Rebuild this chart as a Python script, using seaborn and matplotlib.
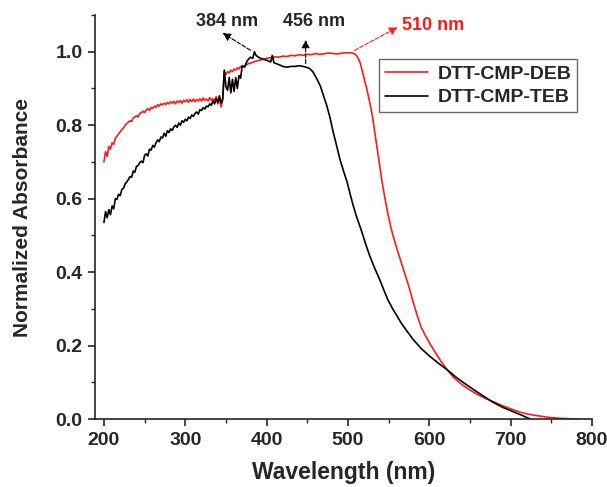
import matplotlib
matplotlib.use("Agg")
import matplotlib.pyplot as plt
import seaborn as sns
import pandas as pd
from matplotlib.ticker import MultipleLocator, FormatStrFormatter

# DTT-CMP-DEB (red)
deb_wl = [200, 202, 204, 206, 208, 210, 212, 214, 216, 218, 220, 222, 224, 226, 228,
          230, 232, 234, 236, 238, 240, 242, 244, 246, 248, 250, 252, 254, 256, 258,
          260, 262, 264, 266, 268, 270, 272, 274, 276, 278, 280, 282, 284, 286, 288,
          290, 292, 294, 296, 298, 300, 302, 304, 306, 308, 310, 312, 314, 316, 318,
          320, 322, 324, 326, 328, 330, 332, 334, 336, 338, 340, 342, 344, 346, 348,
          350, 352, 354, 356, 358, 360, 362, 364, 366, 368, 370, 374, 378, 382, 386,
          390, 395, 400, 405, 410, 415, 420, 425, 430, 435, 440, 445, 450, 455, 460,
          465, 470, 475, 480, 485, 490, 495, 500, 505, 509, 512, 515, 519, 523, 527,
          530, 533, 536, 539, 542, 546, 549, 553, 556, 560, 565, 570, 575, 580, 585,
          590, 595, 600, 605, 610, 615, 620, 630, 640, 650, 660, 670, 680, 690, 700,
          711, 720, 730, 745, 760, 775, 785]
deb_abs = [0.700, 0.728, 0.715, 0.742, 0.735, 0.752, 0.748, 0.765, 0.770, 0.776, 0.782, 0.788, 0.792, 0.800, 0.804,
           0.808, 0.812, 0.810, 0.820, 0.822, 0.826, 0.822, 0.832, 0.834, 0.838, 0.834, 0.842, 0.845, 0.840, 0.848,
           0.846, 0.852, 0.848, 0.856, 0.852, 0.858, 0.855, 0.860, 0.856, 0.862, 0.858, 0.864, 0.860, 0.865, 0.858,
           0.866, 0.862, 0.867, 0.860, 0.868, 0.864, 0.869, 0.862, 0.870, 0.865, 0.871, 0.864, 0.870, 0.866, 0.872,
           0.866, 0.874, 0.868, 0.871, 0.866, 0.875, 0.868, 0.872, 0.866, 0.878, 0.858, 0.872, 0.850, 0.868, 0.945,
           0.938, 0.946, 0.942, 0.950, 0.946, 0.953, 0.950, 0.956, 0.953, 0.960, 0.958, 0.963, 0.968, 0.970, 0.974,
           0.976, 0.979, 0.982, 0.984, 0.986, 0.985, 0.988, 0.987, 0.990, 0.989, 0.992, 0.990, 0.993, 0.992, 0.995,
           0.993, 0.994, 0.996, 0.996, 0.994, 0.995, 0.997, 0.997, 0.997, 0.993, 0.985, 0.970, 0.935, 0.900, 0.860,
           0.826, 0.780, 0.735, 0.690, 0.645, 0.595, 0.560, 0.520, 0.495, 0.465, 0.430, 0.395, 0.360, 0.320, 0.283,
           0.250, 0.228, 0.208, 0.190, 0.172, 0.155, 0.140, 0.113, 0.094, 0.079, 0.066, 0.055, 0.046, 0.036, 0.028,
           0.019, 0.014, 0.010, 0.005, 0.002, 0.0005, 0.0]

# DTT-CMP-TEB (black)
teb_wl = [200, 202, 204, 206, 208, 210, 212, 214, 216, 218, 220, 222, 224, 226, 228,
          230, 232, 234, 236, 238, 240, 242, 244, 246, 248, 250, 252, 254, 256, 258,
          260, 262, 264, 266, 268, 270, 272, 274, 276, 278, 280, 282, 284, 286, 288,
          290, 292, 294, 296, 298, 300, 302, 304, 306, 308, 310, 312, 314, 316, 318,
          320, 322, 324, 326, 328, 330, 332, 334, 336, 338, 340, 342, 344, 346, 348,
          350, 352, 354, 356, 358, 360, 362, 364, 366, 368, 370, 373, 376, 380, 383,
          385, 387, 390, 395, 400, 405, 407, 409, 415, 420, 425, 430, 435, 440, 445,
          450, 453, 457, 462, 466, 470, 474, 478, 482, 486, 490, 495, 499, 503, 506,
          510, 517, 522, 527, 533, 539, 544, 549, 555, 560, 565, 570, 575, 580, 590,
          600, 610, 622, 634, 646, 660, 678, 690, 703, 714, 724]
teb_abs = [0.535, 0.565, 0.548, 0.570, 0.556, 0.580, 0.572, 0.600, 0.598, 0.612, 0.608, 0.625, 0.628, 0.640, 0.645,
           0.652, 0.660, 0.658, 0.675, 0.672, 0.688, 0.690, 0.698, 0.702, 0.698, 0.718, 0.722, 0.716, 0.735, 0.732,
           0.745, 0.740, 0.752, 0.760, 0.755, 0.768, 0.765, 0.778, 0.770, 0.785, 0.780, 0.790, 0.786, 0.795, 0.800,
           0.794, 0.806, 0.800, 0.812, 0.808, 0.816, 0.812, 0.822, 0.818, 0.828, 0.824, 0.832, 0.836, 0.830, 0.842,
           0.840, 0.848, 0.844, 0.852, 0.850, 0.858, 0.854, 0.866, 0.858, 0.872, 0.862, 0.880, 0.860, 0.872, 0.950,
           0.905, 0.895, 0.930, 0.888, 0.925, 0.892, 0.930, 0.900, 0.935, 0.928, 0.962, 0.958, 0.975, 0.985, 0.982,
           1.000, 0.990, 0.985, 0.980, 0.977, 0.972, 0.990, 0.970, 0.965, 0.960, 0.958, 0.960, 0.960, 0.962, 0.960,
           0.957, 0.954, 0.945, 0.925, 0.907, 0.880, 0.853, 0.820, 0.780, 0.745, 0.708, 0.672, 0.645, 0.610, 0.585,
           0.555, 0.510, 0.475, 0.443, 0.410, 0.380, 0.352, 0.325, 0.300, 0.282, 0.263, 0.247, 0.232, 0.217, 0.192,
           0.172, 0.154, 0.134, 0.112, 0.093, 0.072, 0.046, 0.032, 0.020, 0.010, 0.000]

df_deb = pd.DataFrame({"Wavelength": deb_wl, "Absorbance": deb_abs})
df_teb = pd.DataFrame({"Wavelength": teb_wl, "Absorbance": teb_abs})

sns.set_style("ticks")
plt.rcParams["font.family"] = ["Liberation Sans", "DejaVu Sans"]
plt.rcParams["font.weight"] = "bold"

fig = plt.figure(figsize=(6.07, 4.87), dpi=100)
ax = fig.add_axes([0.1565, 0.1396, 0.8187, 0.8296])

sns.lineplot(data=df_deb, x="Wavelength", y="Absorbance", color="#ff1a1a", lw=1.2,
             sort=False, estimator=None, label="DTT-CMP-DEB", ax=ax)
sns.lineplot(data=df_teb, x="Wavelength", y="Absorbance", color="black", lw=1.2,
             sort=False, estimator=None, label="DTT-CMP-TEB", ax=ax)

ax.set_xlim(189, 800)
ax.set_ylim(0, 1.1)
ax.xaxis.set_major_locator(MultipleLocator(100))
ax.xaxis.set_minor_locator(MultipleLocator(50))
ax.yaxis.set_major_locator(MultipleLocator(0.2))
ax.yaxis.set_minor_locator(MultipleLocator(0.1))
ax.yaxis.set_major_formatter(FormatStrFormatter("%.1f"))
ax.tick_params(which="major", direction="out", length=5, width=1.2, labelsize=14, pad=4)
ax.tick_params(which="minor", direction="out", length=3, width=1.0)
for lab in ax.get_xticklabels() + ax.get_yticklabels():
    lab.set_fontweight("bold")
sns.despine(ax=ax)
for s in ["left", "bottom"]:
    ax.spines[s].set_linewidth(1.2)

ax.set_xlabel("Wavelength (nm)", fontsize=16.5, fontweight="bold", labelpad=9)
ax.set_ylabel("Normalized Absorbance", fontsize=15, fontweight="bold", labelpad=17)

# peak annotations
ax.annotate("", xy=(343, 1.055), xytext=(383, 1.0),
            arrowprops=dict(arrowstyle="-|>", color="black", ls="--", lw=0.8, mutation_scale=12))
ax.text(351, 1.083, "384 nm", ha="center", va="center", fontsize=13, fontweight="bold")
ax.annotate("", xy=(448, 1.04), xytext=(448, 0.96),
            arrowprops=dict(arrowstyle="-|>", color="black", ls="--", lw=0.8, mutation_scale=12))
ax.text(458, 1.083, "456 nm", ha="center", va="center", fontsize=13, fontweight="bold")
ax.annotate("", xy=(564, 1.07), xytext=(505, 1.0),
            arrowprops=dict(arrowstyle="-|>", color="#ff1a1a", ls="--", lw=0.8, mutation_scale=12))
ax.text(566, 1.072, "510 nm", ha="left", va="center", fontsize=13, fontweight="bold", color="#ff1a1a")

leg = ax.legend(loc="upper right", bbox_to_anchor=(0.97, 0.89), fontsize=14, frameon=True,
                fancybox=False, edgecolor="#444444", handlelength=2.2, borderpad=0.3,
                labelspacing=0.3, handletextpad=0.5, borderaxespad=0)
leg.get_frame().set_linewidth(1.0)
for t in leg.get_texts():
    t.set_fontweight("bold")

fig.savefig("out.png", dpi=100)
